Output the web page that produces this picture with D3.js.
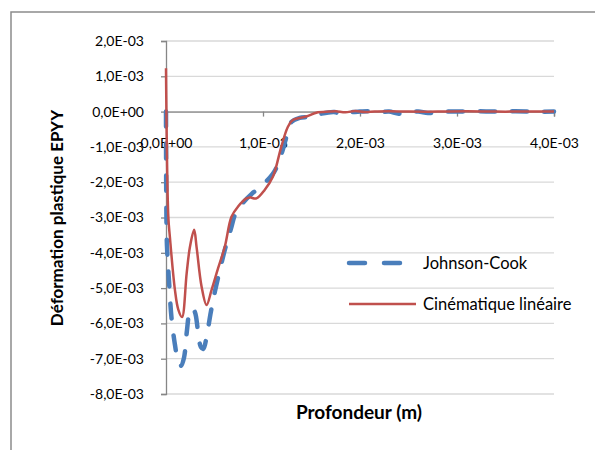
<!DOCTYPE html>
<html>
<head>
<meta charset="utf-8">
<script src="https://cdn.jsdelivr.net/npm/d3@7"></script>
<style>
  body { margin: 0; background: #fff; }
  svg { display: block; font-family: Lato, "Open Sans", sans-serif; }
</style>
</head>
<body>
<svg width="595" height="450"></svg>
<script>
var width = 595, height = 450;

// Profondeur (m) and EPYY for the two material models
var depthJC = [0, 0.000003, 0.00001, 0.000031, 0.000057, 0.000092, 0.000123, 0.000154, 0.000185,
  0.000216, 0.000242, 0.000267, 0.000298, 0.000329, 0.00036, 0.000385, 0.000421, 0.000462,
  0.000504, 0.000555, 0.000606, 0.000668, 0.000719, 0.000791, 0.000884, 0.000987, 0.0011,
  0.001151, 0.001203, 0.001244, 0.001295, 0.001377, 0.00148, 0.001583, 0.001737, 0.0018,
  0.0019, 0.002, 0.0021, 0.0022, 0.0023, 0.0024, 0.0025, 0.0026, 0.0027, 0.0028, 0.0029,
  0.003, 0.0032, 0.0034, 0.0036, 0.0038, 0.004];
var epyyJC = [0, -0.0025, -0.0038, -0.0048, -0.00585, -0.0066, -0.00705, -0.0072, -0.00698,
  -0.0062, -0.00568, -0.00557, -0.00568, -0.0062, -0.00667, -0.00672, -0.00633, -0.00568,
  -0.0051, -0.00449, -0.00392, -0.00333, -0.00287, -0.00259, -0.00233, -0.0021, -0.00177,
  -0.00151, -0.00109, -0.00069, -0.00029, -0.00018, -0.00015, -0.00007, -0.00001, -0.00008,
  -0.00002, 0, 0.00001, -0.00002, 0, -0.00006, -0.00001, 0, -0.00004, -0.00003, 0,
  0, 0.00001, 0, 0.00001, 0, 0];

var depthCin = [0, 0.000024, 0.00004, 0.000092, 0.000126, 0.000165, 0.000213, 0.000247, 0.00029,
  0.000315, 0.000367, 0.000418, 0.00047, 0.000538, 0.000606, 0.000675, 0.000743, 0.000829,
  0.000863, 0.000932, 0.001017, 0.001103, 0.001189, 0.001257, 0.001308, 0.001446, 0.001549,
  0.001686, 0.00175, 0.00185, 0.00195, 0.00205, 0.00215, 0.0023, 0.0025, 0.0028, 0.0031,
  0.0034, 0.0037, 0.004];
var epyyCin = [0.00123, -0.00298, -0.00355, -0.00505, -0.0056, -0.00582, -0.00458, -0.00383, -0.00335,
  -0.00383, -0.00496, -0.00548, -0.00505, -0.00443, -0.00383, -0.00298, -0.00269, -0.00246,
  -0.00243, -0.00246, -0.00222, -0.00184, -0.00099, -0.00043, -0.00024, -0.00014, -0.00003,
  0, 0.00001, -0.00002, 0.00002, -0.00001, 0, 0.00001, 0, 0, 0.00001, 0, 0, 0];

var xTicks = [0, 0.001, 0.002, 0.003, 0.004];
var yTicks = [0.002, 0.001, 0, -0.001, -0.002, -0.003, -0.004, -0.005, -0.006, -0.007, -0.008];
var seriesNames = ["Johnson-Cook", "Cinématique linéaire"];
var seriesColors = ["#4a7ebb", "#c0504d"];

var svg = d3.select('svg');

// outer chart frame (cut off on the right and bottom)
svg.append('path')
  .attr('d', 'M11,452 L11,12 L600,12')
  .attr('fill', 'none')
  .attr('stroke', '#8c8c8c')
  .attr('stroke-width', 1.5);

var x = d3.scaleLinear().domain([0, 0.004]).range([166, 554]);
var y = d3.scaleLinear().domain([-0.008, 0.002]).range([394, 41]);

var sci = function(v){
  if (Math.abs(v) < 1e-12) return '0,0E+00';
  var e = Math.floor(Math.log10(Math.abs(v)) + 1e-9);
  var m = v / Math.pow(10, e);
  return m.toFixed(1).replace('.', ',') + 'E' + (e < 0 ? '-' : '+') + String(Math.abs(e)).padStart(2, '0');
};

// gridlines
svg.append('g').selectAll('line').data(yTicks).enter().append('line')
  .attr('x1', x(0)).attr('x2', x(0.004))
  .attr('y1', function(d){ return y(d) }).attr('y2', function(d){ return y(d) })
  .attr('stroke', '#d9d9d9').attr('stroke-width', 1.3);

// y axis
var yAxis = svg.append('g')
  .attr('transform', 'translate(' + x(0) + ',0)')
  .call(d3.axisLeft(y).tickValues(yTicks).tickSize(5).tickPadding(17).tickFormat(sci));
yAxis.select('.domain').attr('stroke', '#868686').attr('stroke-width', 1.3);
yAxis.selectAll('.tick line').attr('stroke', '#868686').attr('stroke-width', 1.3);
yAxis.selectAll('.tick text').attr('font-size', 14).attr('fill', '#000')
  .attr('font-family', 'Lato, sans-serif');

// x axis along y = 0
var xAxis = svg.append('g')
  .attr('transform', 'translate(0,' + y(0) + ')')
  .call(d3.axisBottom(x).tickValues(xTicks).tickSize(5).tickPadding(21).tickFormat(sci));
xAxis.select('.domain').attr('stroke', '#868686').attr('stroke-width', 1.3);
xAxis.selectAll('.tick line').attr('stroke', '#868686').attr('stroke-width', 1.3);
xAxis.selectAll('.tick text').attr('font-size', 14).attr('fill', '#000')
  .attr('font-family', 'Lato, sans-serif');

var line = d3.line()
  .x(function(d){ return x(d[0]) })
  .y(function(d){ return y(d[1]) })
  .curve(d3.curveCatmullRom.alpha(0.5));

svg.append('path')
  .datum(d3.zip(depthJC, epyyJC))
  .attr('d', line)
  .attr('fill', 'none')
  .attr('stroke', seriesColors[0])
  .attr('stroke-width', 4.5)
  .attr('stroke-linecap', 'round')
  .attr('stroke-dasharray', '15,17');

svg.append('path')
  .datum(d3.zip(depthCin, epyyCin))
  .attr('d', line)
  .attr('fill', 'none')
  .attr('stroke', seriesColors[1])
  .attr('stroke-width', 2.5)
  .attr('stroke-linejoin', 'round');

// legend
var legend = svg.append('g').selectAll('g').data(seriesNames).enter().append('g')
  .attr('transform', function(d, i){ return 'translate(0,' + (263 + i * 41) + ')' });
legend.append('line')
  .attr('x1', 349).attr('x2', 416).attr('y1', 0).attr('y2', 0)
  .attr('stroke', function(d, i){ return seriesColors[i] })
  .attr('stroke-width', function(d, i){ return i == 0 ? 4.5 : 2.5 })
  .attr('stroke-linecap', function(d, i){ return i == 0 ? 'round' : 'butt' })
  .attr('stroke-dasharray', function(d, i){ return i == 0 ? '16,19' : null });
legend.append('text')
  .attr('x', 423).attr('y', 6)
  .attr('font-size', 16.5)
  .text(function(d){ return d });

// axis titles
svg.append('text')
  .attr('x', 359).attr('y', 419)
  .attr('text-anchor', 'middle')
  .attr('font-size', 19).attr('font-weight', 'bold')
  .text('Profondeur (m)');

svg.append('text')
  .attr('transform', 'translate(63,218) rotate(-90)')
  .attr('text-anchor', 'middle')
  .attr('font-size', 17).attr('font-weight', 'bold')
  .text('Déformation plastique EPYY');
</script>
</body>
</html>
